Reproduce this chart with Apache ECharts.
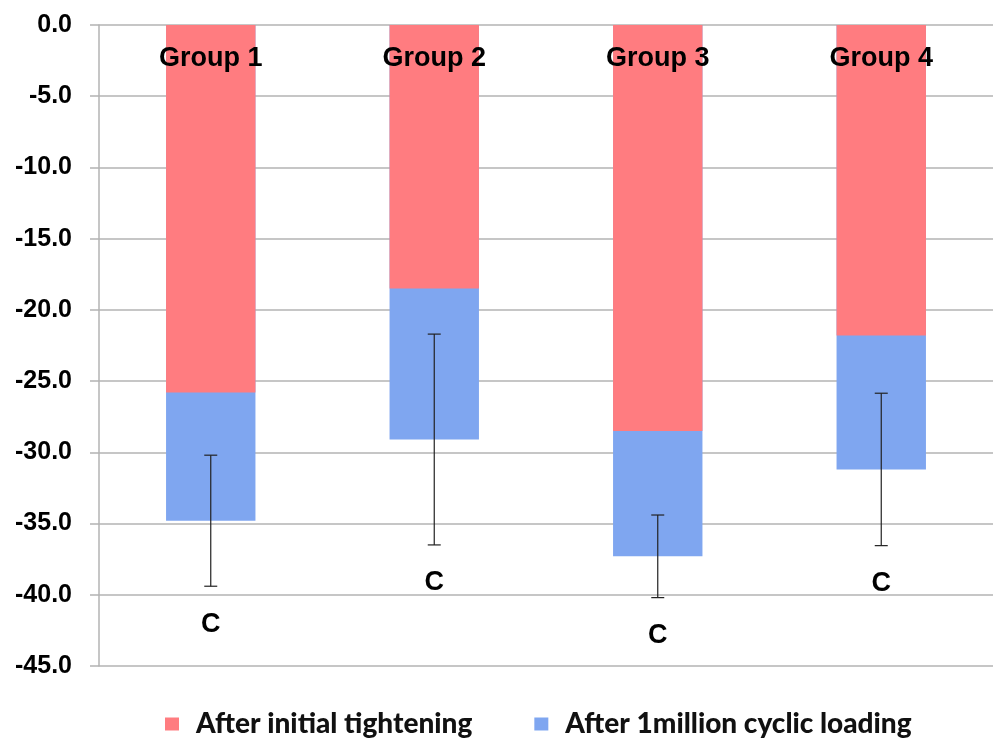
<!DOCTYPE html>
<html>
<head>
<meta charset="utf-8">
<script src="https://cdn.jsdelivr.net/npm/echarts@6/dist/echarts.min.js"></script>
<style>
  html, body { margin: 0; padding: 0; background: #fff; }
  #chart { width: 993px; height: 744px; }
</style>
</head>
<body>
<div id="chart"></div>
<script>
// Groups and measured preload values
const categories = ['Group 1', 'Group 2', 'Group 3', 'Group 4'];
const initialTightening = [-25.8, -18.5, -28.5, -21.8];
const cyclicLoading = [-34.8, -29.1, -37.3, -31.2];
const cyclicSD = [4.6, 7.4, 2.9, 5.35];
const groupLetters = ['C', 'C', 'C', 'C'];
const yTicks = { min: -45, max: 0, step: 5 };

const RED = '#FF7C80';
const BLUE = '#7FA6F0';
const GRID = '#b3b3b3';
const ARIAL = '"Liberation Sans", Arial, sans-serif';

const chart = echarts.init(document.getElementById('chart'));

const errorData = cyclicLoading.map((v, i) => [i, v, cyclicSD[i], groupLetters[i]]);

chart.setOption({
  animation: false,
  grid: { left: 99, right: -6, top: 25, bottom: 78 },
  legend: {
    bottom: 1,
    left: 160,
    itemGap: 62,
    itemWidth: 14,
    itemHeight: 13,
    icon: 'rect',
    textStyle: {
      fontFamily: 'Lato',
      fontWeight: 900,
      fontSize: 28,
      color: '#111',
      padding: [0, 0, 0, 12]
    },
    data: ['After initial tightening', 'After 1million cyclic loading']
  },
  xAxis: {
    type: 'category',
    position: 'top',
    data: categories,
    axisLine: { show: false },
    axisTick: { show: false },
    axisLabel: {
      inside: true,
      margin: 20,
      fontFamily: ARIAL,
      fontWeight: 'bold',
      fontSize: 27,
      color: '#000',
      verticalAlign: 'top'
    },
    z: 10
  },
  yAxis: {
    type: 'value',
    min: yTicks.min,
    max: yTicks.max,
    interval: yTicks.step,
    axisLine: { show: true, lineStyle: { color: GRID, width: 1.5 } },
    axisTick: { show: true, length: 9, lineStyle: { color: GRID, width: 1.5 } },
    splitLine: { show: true, lineStyle: { color: GRID, width: 1.5 } },
    axisLabel: {
      margin: 27,
      fontFamily: ARIAL,
      fontWeight: 'bold',
      fontSize: 25,
      color: '#000',
      formatter: v => v.toFixed(1)
    }
  },
  series: [
    {
      name: 'After initial tightening',
      type: 'bar',
      data: initialTightening,
      barWidth: '40%',
      barGap: '-100%',
      itemStyle: { color: RED },
      z: 3
    },
    {
      name: 'After 1million cyclic loading',
      type: 'bar',
      data: cyclicLoading,
      barWidth: '40%',
      barGap: '-100%',
      itemStyle: { color: BLUE },
      z: 2
    },
    {
      name: 'error',
      type: 'custom',
      z: 5,
      data: errorData,
      renderItem: function (params, api) {
        const idx = api.value(0);
        const mean = api.value(1);
        const sd = api.value(2);
        const top = api.coord([idx, mean + sd]);
        const bot = api.coord([idx, mean - sd]);
        const cap = 6.5;
        const style = { stroke: '#222', lineWidth: 1.2 };
        return {
          type: 'group',
          children: [
            { type: 'line', shape: { x1: top[0], y1: top[1], x2: bot[0], y2: bot[1] }, style },
            { type: 'line', shape: { x1: top[0] - cap, y1: top[1], x2: top[0] + cap, y2: top[1] }, style },
            { type: 'line', shape: { x1: bot[0] - cap, y1: bot[1], x2: bot[0] + cap, y2: bot[1] }, style },
            {
              type: 'text',
              x: bot[0],
              y: bot[1] + 38,
              style: {
                text: api.value(3),
                fill: '#000',
                font: 'bold 27px ' + ARIAL,
                align: 'center',
                verticalAlign: 'middle'
              }
            }
          ]
        };
      }
    }
  ]
});
</script>
</body>
</html>
